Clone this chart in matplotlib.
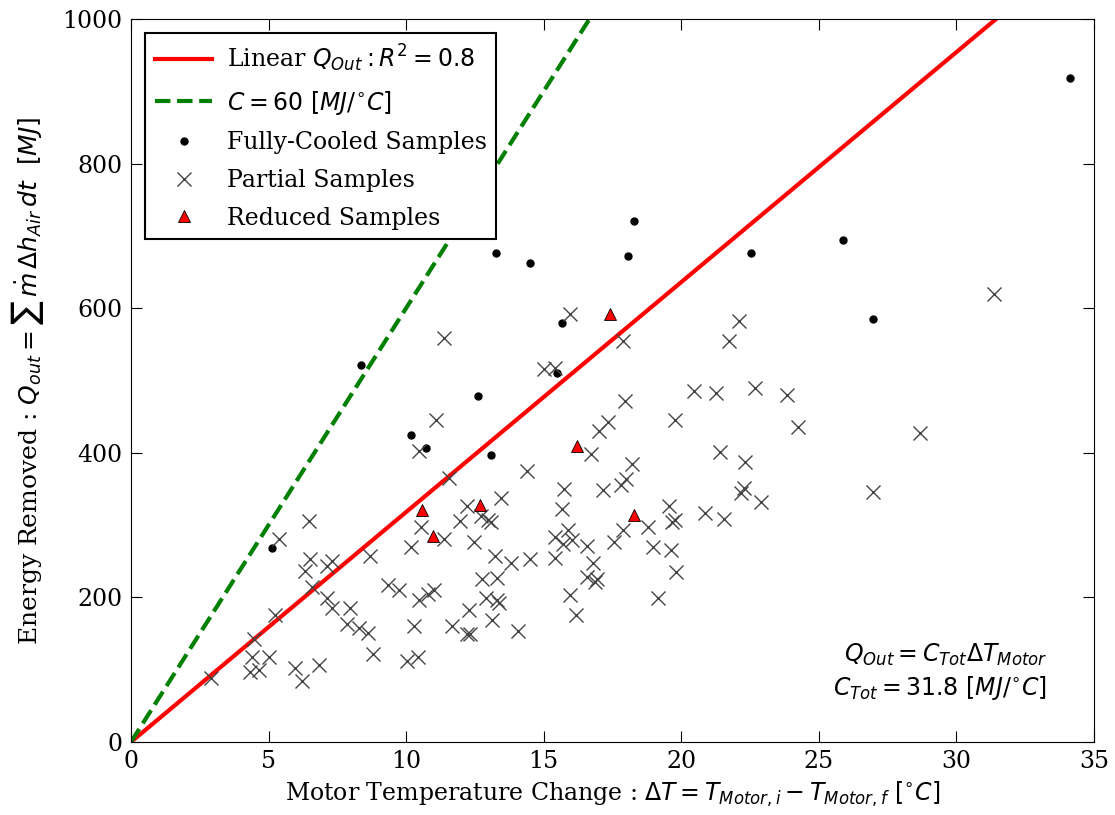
import numpy as np
import matplotlib
matplotlib.use("Agg")
import matplotlib.pyplot as plt

plt.rcParams['font.family'] = ['DejaVu Serif']
plt.rcParams['xtick.direction'] = 'in'
plt.rcParams['ytick.direction'] = 'in'
plt.rcParams['xtick.top'] = True
plt.rcParams['ytick.right'] = True

# fully cooled samples
full_dt = [5.14, 8.37, 10.16, 10.74, 12.63, 13.07, 13.28, 14.52, 15.68, 15.47,
           18.05, 18.3, 22.52, 25.9, 26.96, 34.12]
full_q = [268, 522, 424, 406, 479, 397, 677, 663, 579, 510,
          672, 721, 677, 694, 585, 918]

# reduced samples
red_dt = [10.59, 10.96, 12.7, 16.23, 17.43, 18.27]
red_q = [321, 285, 328, 410, 592, 314]

# partial samples
part_dt = [2.91, 4.48, 4.39, 5.02, 4.33, 4.65, 5.96, 6.85, 6.23, 5.24,
           5.39, 6.47, 6.49, 7.32, 6.33, 7.11, 8.69, 6.59, 9.33, 9.75,
           7.14, 7.32, 7.96, 7.85, 8.27, 8.63, 8.81, 10.02, 10.45, 10.28,
           10.18, 10.47, 10.81, 11.03, 10.55, 10.47, 11.08, 11.39, 11.57, 11.39,
           11.96, 11.66, 12.27, 12.2, 12.33, 12.2, 12.48, 12.73, 12.99, 13.09,
           13.45, 12.75, 13.29, 12.89, 13.29, 13.36, 13.14, 13.24, 13.82, 14.06,
           14.49, 14.39, 15.0, 15.42, 15.68, 15.75, 15.42, 15.9, 16.02, 15.72,
           15.41, 15.96, 16.18, 16.59, 16.81, 16.57, 16.93, 16.87, 15.97, 16.73,
           17.02, 17.33, 17.17, 17.82, 18.0, 17.54, 17.9, 17.9, 17.94, 18.2,
           18.81, 18.96, 19.17, 19.54, 19.64, 19.68, 19.78, 19.8, 19.76, 20.48,
           20.85, 21.26, 21.42, 21.54, 21.75, 22.09, 22.17, 22.3, 22.33, 22.69,
           22.91, 23.84, 24.23, 26.99, 28.69, 31.38]
part_q = [89, 142, 117, 117, 97, 100, 103, 106, 85, 175,
          281, 305, 253, 251, 237, 244, 257, 214, 217, 210,
          199, 185, 186, 163, 157, 151, 121, 112, 117, 161,
          269, 196, 205, 210, 297, 403, 445, 559, 365, 281,
          305, 161, 183, 150, 150, 327, 276, 313, 307, 304,
          337, 226, 227, 199, 196, 192, 169, 257, 247, 153,
          253, 375, 516, 517, 322, 350, 284, 293, 279, 274,
          254, 203, 175, 271, 248, 228, 226, 221, 592, 399,
          430, 442, 349, 355, 364, 277, 293, 554, 471, 385,
          297, 270, 199, 326, 265, 304, 307, 235, 445, 485,
          317, 482, 401, 309, 555, 582, 345, 351, 387, 489,
          332, 480, 436, 346, 427, 619]

c_tot = 31.8
c_ref = 60
x_line = [0, 35]

fig, ax = plt.subplots(figsize=(11.15, 8.15), dpi=100)
fig.subplots_adjust(left=0.1175, right=0.981, top=0.9767, bottom=0.0896)

ax.plot(x_line, [c_tot * v for v in x_line], color='red', lw=3,
        label=r'Linear $Q_{Out} : R^2 = 0.8$')
ax.plot(x_line, [c_ref * v for v in x_line], color='green', lw=3, ls='--',
        label=r'$C = 60\ [MJ/^{\circ}C]$')
ax.plot(full_dt, full_q, 'o', color='black', ms=5, label='Fully-Cooled Samples')
ax.plot(part_dt, part_q, 'x', color='#444444', ms=10, mew=1, label='Partial Samples')
ax.plot(red_dt, red_q, '^', color='red', mec='black', mew=0.6, ms=9, label='Reduced Samples')

ax.set_xlim(0, 35)
ax.set_ylim(0, 1000)
ax.set_xticks(range(0, 36, 5))
ax.set_yticks(range(0, 1001, 200))
ax.tick_params(labelsize=17, length=8, pad=6)

ax.set_xlabel(r'Motor Temperature Change : $\Delta T = T_{Motor,i} - T_{Motor,f}$ $[^{\circ}C]$',
              fontsize=17, labelpad=5)
ax.set_ylabel(r'Energy Removed : $Q_{out} = \sum\, \dot{m}\, \Delta h_{Air}\, dt$  $[MJ]$',
              fontsize=18, labelpad=12)

ax.text(33.3, 97, r'$Q_{Out} = C_{Tot}\Delta T_{Motor}$' + '\n' + r'$C_{Tot} = 31.8\ [MJ/^{\circ}C]$',
        ha='right', va='center', fontsize=17, multialignment='right', linespacing=1.3)

leg = ax.legend(loc='upper left', fontsize=17, fancybox=False, edgecolor='black',
                framealpha=1, borderpad=0.4, labelspacing=0.62, handlelength=2.45,
                handletextpad=0.6, borderaxespad=0.6)
leg.get_frame().set_linewidth(1.5)

fig.savefig('out.png', dpi=100)
